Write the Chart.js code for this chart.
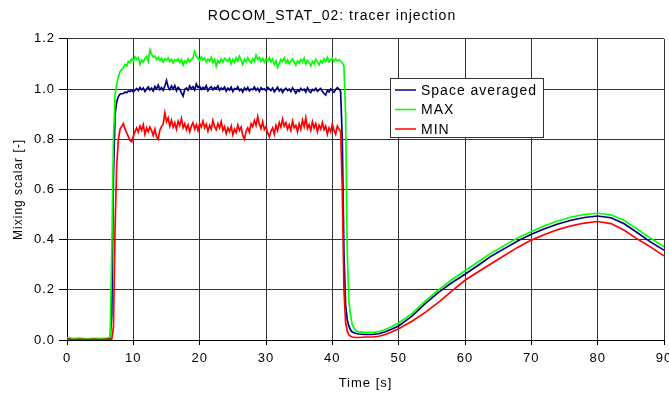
<!DOCTYPE html>
<html>
<head>
<meta charset="utf-8">
<script src="https://cdn.jsdelivr.net/npm/chart.js@4/dist/chart.umd.min.js"></script>
<style>
  html, body { margin: 0; padding: 0; background: #fff; overflow: hidden; }
  #wrap { width: 680px; height: 394px; }
</style>
</head>
<body>
<div id="wrap"><canvas id="mixChart" width="680" height="394"></canvas></div>
<script>
// Time [s]
const timeS = [
    0, 1, 2, 3, 4, 5, 6, 6.5, 6.75, 7, 7.25, 7.5, 7.75, 8,
    8.5, 8.75, 9, 9.25, 9.5, 9.75, 10, 10.25,
    10.5, 10.75, 11, 11.25, 11.5, 11.75, 12, 12.25,
    12.5, 12.75, 13, 13.25, 13.5, 13.75, 14, 14.25,
    14.5, 14.75, 15, 15.25, 15.5, 15.75, 16, 16.25,
    16.5, 16.75, 17, 17.25, 17.5, 17.75, 18, 18.25,
    18.5, 18.75, 19, 19.25, 19.5, 19.75, 20, 20.25,
    20.5, 20.75, 21, 21.25, 21.5, 21.75, 22, 22.25,
    22.5, 22.75, 23, 23.25, 23.5, 23.75, 24, 24.25,
    24.5, 24.75, 25, 25.25, 25.5, 25.75, 26, 26.25,
    26.5, 26.75, 27, 27.25, 27.5, 27.75, 28, 28.25,
    28.5, 28.75, 29, 29.25, 29.5, 29.75, 30, 30.25,
    30.5, 30.75, 31, 31.25, 31.5, 31.75, 32, 32.25,
    32.5, 32.75, 33, 33.25, 33.5, 33.75, 34, 34.25,
    34.5, 34.75, 35, 35.25, 35.5, 35.75, 36, 36.25,
    36.5, 36.75, 37, 37.25, 37.5, 37.75, 38, 38.25,
    38.5, 38.75, 39, 39.25, 39.5, 39.75, 40, 40.25,
    40.5, 40.75, 41,
    41.25, 41.5, 41.75, 42, 42.25, 42.5, 42.75, 43, 43.5,
    44, 45, 46, 47, 48, 49, 50,
    52, 54, 56, 58, 60, 62, 64, 66, 68, 70, 72, 74, 76, 78, 80, 82, 84, 86, 88, 90
];

const spaceAveraged = [
    0.005, 0.004, 0.005, 0.004, 0.005, 0.004, 0.005, 0.006, 0.1, 0.65, 0.9, 0.95, 0.97, 0.98,
    0.982, 0.988, 0.985, 0.992, 0.99, 0.996, 0.988, 0.995,
    1.002, 0.994, 1.006, 0.997, 1.004, 0.99, 1.001, 1.008,
    0.996, 1.003, 0.992, 1.01, 1.0, 1.016, 0.998, 1.006,
    0.995, 1.012, 1.034, 1.008, 0.997, 1.012, 1.0, 1.014,
    0.993, 1.006, 1.0, 0.985, 0.972, 0.998, 1.004, 0.995,
    1.012, 1.001, 1.009, 0.996, 1.02, 1.006, 1.011, 0.998,
    1.007, 1.0, 1.013, 0.993, 1.004, 1.009, 0.997, 1.006,
    1.001, 1.012, 0.995, 1.004, 0.998, 1.008, 0.992, 1.003,
    0.996, 1.007, 0.99, 1.002, 0.999, 1.009, 0.994, 1.0,
    0.988, 1.004, 0.996, 1.006, 0.993, 1.0, 0.997, 1.008,
    0.995, 1.003, 0.99, 1.005, 0.998, 1.001, 0.993, 1.006,
    1.0, 0.994, 1.004, 0.989, 0.998, 1.007, 0.992, 1.0,
    0.986, 0.997, 1.003, 0.994, 1.0, 0.99, 1.004, 0.995,
    0.983, 0.996, 0.99, 1.002, 0.995, 0.999, 0.988, 1.005,
    0.992, 0.986, 0.998, 0.994, 1.003, 0.991, 0.997, 1.002,
    0.99, 0.982, 0.976, 0.994, 0.988, 1.0, 0.993, 0.987,
    0.998, 1.005, 1.0,
    0.99, 0.8, 0.35, 0.14, 0.08, 0.055, 0.04, 0.032, 0.027,
    0.024, 0.022, 0.022, 0.025, 0.033, 0.044, 0.056,
    0.095, 0.145, 0.19, 0.228, 0.262, 0.298, 0.335, 0.365, 0.395, 0.421,
    0.443, 0.462, 0.477, 0.488, 0.494, 0.487, 0.463, 0.427, 0.39, 0.358
];

const maxValues = [
    0.01, 0.006, 0.008, 0.005, 0.007, 0.006, 0.008, 0.01, 0.35, 0.8, 0.98, 1.02, 1.05, 1.07,
    1.085, 1.098, 1.092, 1.11, 1.105, 1.12, 1.112, 1.128,
    1.118, 1.125, 1.098, 1.115, 1.108, 1.122, 1.13, 1.11,
    1.155, 1.138, 1.128, 1.132, 1.118, 1.126, 1.114, 1.122,
    1.108, 1.12, 1.115, 1.124, 1.11, 1.118, 1.104, 1.116,
    1.112, 1.12, 1.106, 1.118, 1.095, 1.112, 1.104, 1.12,
    1.108, 1.118, 1.124, 1.15, 1.13, 1.122, 1.114, 1.128,
    1.116, 1.124, 1.108, 1.119, 1.112, 1.126, 1.105, 1.118,
    1.09, 1.112, 1.104, 1.12, 1.108, 1.122, 1.116, 1.11,
    1.122, 1.1, 1.118, 1.106, 1.124, 1.112, 1.13, 1.115,
    1.098, 1.118, 1.108, 1.124, 1.112, 1.104, 1.12, 1.11,
    1.135, 1.118, 1.126, 1.11, 1.122, 1.106, 1.118, 1.112,
    1.124, 1.108, 1.12, 1.098, 1.112, 1.086, 1.102, 1.118,
    1.11, 1.124, 1.104, 1.116, 1.1, 1.112, 1.12, 1.106,
    1.095, 1.112, 1.104, 1.118, 1.108, 1.122, 1.1, 1.114,
    1.106, 1.092, 1.11, 1.1, 1.118, 1.108, 1.096, 1.112,
    1.104, 1.12, 1.11, 1.126, 1.108, 1.116, 1.122, 1.11,
    1.12, 1.112, 1.116,
    1.11, 1.105, 1.09, 0.9, 0.35, 0.15, 0.1, 0.06, 0.038,
    0.032, 0.03, 0.03, 0.033, 0.042, 0.054, 0.068,
    0.105, 0.155, 0.2, 0.24, 0.276, 0.312, 0.347, 0.378, 0.407, 0.432,
    0.455, 0.474, 0.49, 0.5, 0.505, 0.499, 0.476, 0.441, 0.405, 0.372
];

const minValues = [
    0.003, 0.002, 0.003, 0.002, 0.003, 0.002, 0.003, 0.003, 0.003, 0.05, 0.45, 0.7, 0.8, 0.84,
    0.862, 0.84, 0.825, 0.81, 0.795, 0.79, 0.812, 0.83,
    0.845, 0.828, 0.852, 0.836, 0.858, 0.82, 0.845, 0.83,
    0.848, 0.835, 0.815, 0.84, 0.81, 0.8, 0.836, 0.85,
    0.86, 0.905, 0.87, 0.885, 0.852, 0.875, 0.848, 0.866,
    0.84, 0.872, 0.855, 0.882, 0.846, 0.862, 0.838, 0.857,
    0.83, 0.852, 0.866, 0.84, 0.858, 0.835, 0.862, 0.848,
    0.872, 0.845, 0.86, 0.832, 0.855, 0.84, 0.875, 0.85,
    0.838, 0.862, 0.845, 0.87, 0.835, 0.85, 0.822, 0.845,
    0.83, 0.852, 0.818, 0.84, 0.826, 0.856, 0.835, 0.848,
    0.815, 0.8, 0.832, 0.845, 0.828, 0.862, 0.85, 0.875,
    0.855, 0.89, 0.86, 0.842, 0.87, 0.838, 0.85, 0.825,
    0.81, 0.832, 0.845, 0.82, 0.855, 0.835, 0.866, 0.848,
    0.88, 0.852, 0.866, 0.84, 0.858, 0.835, 0.872, 0.845,
    0.855, 0.83, 0.862, 0.84, 0.876, 0.85, 0.885, 0.842,
    0.858, 0.835, 0.87, 0.845, 0.862, 0.83, 0.855, 0.84,
    0.866, 0.838, 0.852, 0.82, 0.845, 0.83, 0.86, 0.835,
    0.82, 0.852, 0.84,
    0.83, 0.6, 0.2, 0.07, 0.035, 0.02, 0.015, 0.012, 0.01,
    0.01, 0.012, 0.012, 0.015, 0.022, 0.033, 0.045,
    0.075, 0.11, 0.15, 0.195, 0.238, 0.272, 0.305, 0.338, 0.37, 0.398,
    0.42, 0.44, 0.455, 0.466, 0.472, 0.464, 0.437, 0.402, 0.37, 0.335
];

const seriesLabels = ['Space averaged', 'MAX', 'MIN'];
const seriesColors = ['#000080', '#00ff00', '#ff0000'];

function toPoints(values) {
    return timeS.map((t, i) => ({ x: t, y: values[i] }));
}

// Excel-like letter spacing for all text
const spacingPlugin = {
    id: 'spacing',
    beforeLayout(chart) { chart.ctx.letterSpacing = '1px'; },
    beforeDraw(chart) { chart.ctx.letterSpacing = '1px'; }
};

// Legend box drawn inside the plot area
const boxLegend = {
    id: 'boxLegend',
    afterDraw(chart) {
        const ctx = chart.ctx;
        const x = 390.5, y = 78.5, w = 153, h = 59;
        ctx.save();
        ctx.fillStyle = '#ffffff';
        ctx.fillRect(x, y, w, h);
        ctx.strokeStyle = '#333333';
        ctx.lineWidth = 1;
        ctx.strokeRect(x, y, w, h);
        ctx.font = '14px "Liberation Sans", Arial, sans-serif';
        ctx.textBaseline = 'middle';
        ctx.fillStyle = '#000000';
        chart.data.datasets.forEach((ds, i) => {
            const ly = 90 + i * 19.5;
            ctx.strokeStyle = ds.borderColor;
            ctx.lineWidth = 1.5;
            ctx.beginPath();
            ctx.moveTo(395, ly);
            ctx.lineTo(416, ly);
            ctx.stroke();
            ctx.fillText(ds.label, 421, ly + 1);
        });
        ctx.restore();
    }
};

new Chart(document.getElementById('mixChart'), {
    type: 'line',
    data: {
        datasets: seriesLabels.map((label, i) => ({
            label: label,
            data: toPoints([spaceAveraged, maxValues, minValues][i]),
            borderColor: seriesColors[i],
            backgroundColor: seriesColors[i],
            borderWidth: 1.7,
            pointRadius: 0,
            tension: 0,
            fill: false,
            order: 2 - i
        }))
    },
    options: {
        responsive: false,
        animation: false,
        devicePixelRatio: 1,
        layout: { padding: { left: 0, right: 16, top: 0, bottom: 0 } },
        plugins: {
            legend: { display: false },
            tooltip: { enabled: false },
            title: {
                display: true,
                text: 'ROCOM_STAT_02: tracer injection',
                color: '#000',
                font: { family: '"Liberation Sans", Arial, sans-serif', size: 14, weight: 'normal' },
                padding: { top: 8, bottom: 14 }
            }
        },
        scales: {
            x: {
                type: 'linear',
                min: 0,
                max: 90,
                afterFit(scale) { scale.height = 54; },
                ticks: {
                    stepSize: 10,
                    color: '#000',
                    padding: 6,
                    maxRotation: 0,
                    font: { family: '"Liberation Sans", Arial, sans-serif', size: 13 }
                },
                grid: { color: '#333333', lineWidth: 1, tickLength: 5, tickColor: '#000' },
                border: { color: '#000', width: 1 },
                title: {
                    display: true,
                    text: 'Time [s]',
                    color: '#000',
                    font: { family: '"Liberation Sans", Arial, sans-serif', size: 13 },
                    padding: { top: 0, bottom: 3 }
                }
            },
            y: {
                min: 0,
                max: 1.2,
                afterFit(scale) { scale.width = 67; },
                ticks: {
                    stepSize: 0.2,
                    color: '#000',
                    padding: 4,
                    font: { family: '"Liberation Sans", Arial, sans-serif', size: 13 },
                    callback: function(value) { return value.toFixed(1); }
                },
                grid: { color: '#333333', lineWidth: 1, tickLength: 8, tickColor: '#000' },
                border: { color: '#000', width: 1 },
                title: {
                    display: true,
                    text: 'Mixing scalar [-]',
                    color: '#000',
                    font: { family: '"Liberation Sans", Arial, sans-serif', size: 12 },
                    padding: { top: 11, bottom: 0 }
                }
            }
        }
    },
    plugins: [spacingPlugin, boxLegend]
});
</script>
</body>
</html>
